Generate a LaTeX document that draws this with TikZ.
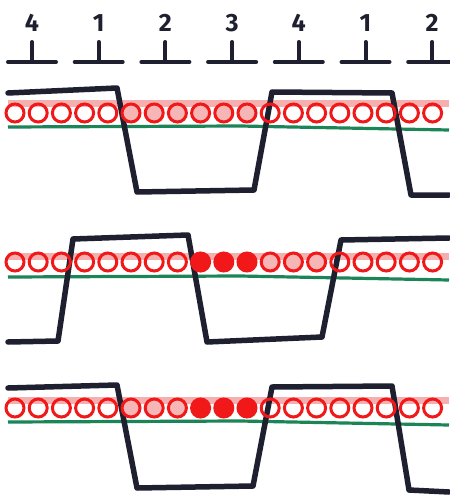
\documentclass[tikz,border=0pt]{standalone}
\usepackage{fontspec}
\newfontfamily\markerfont{Fira Sans}
\usetikzlibrary{positioning}
\definecolor{Ink}{HTML}{1E2030}
\definecolor{Marker}{HTML}{F01818}
\definecolor{Blush}{HTML}{F7B6B6}
\definecolor{Band}{HTML}{F6AFAF}
\definecolor{Rail}{HTML}{1C8558}

\begin{document}
\begin{tikzpicture}[
  x=1pt,y=-1pt,
  digit/.style={font=\markerfont\bfseries\fontsize{25}{25}\selectfont,text=Ink,inner sep=0pt},
  tickline/.style={draw=Ink,line width=4pt,line cap=round},
  wave/.style={draw=Ink,line width=5.5pt,line cap=round,line join=round},
  band/.style={draw=Band,line width=7pt},
  rail/.style={draw=Rail,line width=3.2pt},
  slot/.style={circle,draw=Marker,line width=3pt,minimum size=18pt,inner sep=0pt},
  warmslot/.style={slot,fill=Blush},
  hotslot/.style={slot,fill=Marker}
]
  \useasboundingbox (0,0) rectangle (449,497);
  \fill[white] (0,0) rectangle (449,497);

  \foreach \n [count=\k from 0] in {4,1,2,3,4,1,2}{
    \node[digit] (d\k) at ({32+66.7*\k},23) {\n};
    \coordinate (t\k) at ({32+66.7*\k},62);
    \draw[tickline] (t\k) ++(-24,0) -- ++(48,0) (t\k) -- ++(0,-20);
  }

  \draw[band] (8,104) -- (449,104);
  \draw[band] (8,256) -- (449,256);
  \draw[band] (8,400) -- (449,400);

  \draw[rail] (8,127) -- (240,126) -- (449,130);
  \draw[rail] (8,277) -- (240,276) -- (449,280);
  \draw[rail] (8,422) -- (240,421) -- (449,425);

  \draw[wave] (8,93) -- (117,88) -- (137,192) -- (254,190) -- (272,92) -- (392,93) -- (411,195) -- (449,195);
  \draw[wave] (8,342) -- (58,341) -- (73,239) -- (188,235) -- (207,342) -- (322,337) -- (341,240) -- (449,238);
  \draw[wave] (8,388) -- (117,385) -- (137,488) -- (253,486) -- (272,387) -- (392,386) -- (409,490) -- (449,492);

  \foreach \r/\y/\wa/\wb/\ha/\hb in {1/113/5/10/-1/-1,2/262/11/13/8/10,3/408/5/7/8/10}{
    \foreach \i in {0,...,18}{
      \def\kind{slot}
      \ifnum\i<\wa\relax\else\ifnum\i>\wb\relax\else\def\kind{warmslot}\fi\fi
      \ifnum\i<\ha\relax\else\ifnum\i>\hb\relax\else\def\kind{hotslot}\fi\fi
      \node[\kind] (s\r-\i) at ({15+23.2*\i},\y) {};
    }
  }
\end{tikzpicture}
\end{document}
